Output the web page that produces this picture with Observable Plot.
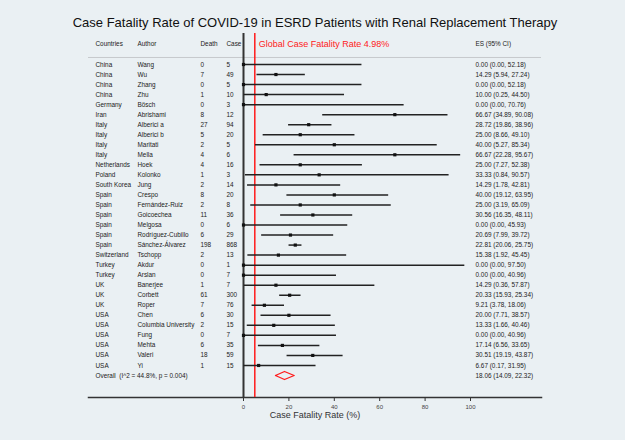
<!DOCTYPE html>
<html><head><meta charset="utf-8">
<script src="https://cdn.jsdelivr.net/npm/d3@7"></script>
<script src="https://cdn.jsdelivr.net/npm/@observablehq/plot@0.6"></script>
<style>
html,body{margin:0;padding:0;background:#eaf0f3;font-family:"Liberation Sans",Arial,sans-serif;overflow:hidden;}
#title{height:33px;box-sizing:border-box;padding-top:15px;padding-left:5px;line-height:16px;font-size:13px;text-align:center;color:#111;}
#chart svg{background:transparent !important;}
</style></head><body>
<div id="title">Case Fatality Rate of COVID-19 in ESRD Patients with Renal Replacement Therapy</div>
<div id="chart"></div>
<script>
const countries = ["China","China","China","China","Germany","Iran","Italy","Italy","Italy","Italy","Netherlands","Poland","South Korea","Spain","Spain","Spain","Spain","Spain","Spain","Switzerland","Turkey","Turkey","UK","UK","UK","USA","USA","USA","USA","USA","USA"];
const authors = ["Wang","Wu","Zhang","Zhu","Bösch","Abrishami","Alberici a","Alberici b","Maritati","Mella","Hoek","Kolonko","Jung","Crespo","Fernández-Ruiz","Goicoechea","Melgosa","Rodríguez-Cubillo","Sánchez-Álvarez","Tschopp","Akdur","Arslan","Banerjee","Corbett","Roper","Chen","Columbia University","Fung","Mehta","Valeri","Yi"];
const deaths = [0,7,0,1,0,8,27,5,2,4,4,1,2,8,2,11,0,6,198,2,0,0,1,61,7,6,2,0,6,18,1];
const cases = [5,49,5,10,3,12,94,20,5,6,16,3,14,20,8,36,6,29,868,13,1,7,7,300,76,30,15,7,35,59,15];
const esValues = [0.00,14.29,0.00,10.00,0.00,66.67,28.72,25.00,40.00,66.67,25.00,33.33,14.29,40.00,25.00,30.56,0.00,20.69,22.81,15.38,0.00,0.00,14.29,20.33,9.21,20.00,13.33,0.00,17.14,30.51,6.67];
const ciLow = [0.00,5.94,0.00,0.25,0.00,34.89,19.86,8.66,5.27,22.28,7.27,0.84,1.78,19.12,3.19,16.35,0.00,7.99,20.06,1.92,0.00,0.00,0.36,15.93,3.78,7.71,1.66,0.00,6.56,19.19,0.17];
const ciHigh = [52.18,27.24,52.18,44.50,70.76,90.08,38.96,49.10,85.34,95.67,52.38,90.57,42.81,63.95,65.09,48.11,45.93,39.72,25.75,45.45,97.50,40.96,57.87,25.34,18.06,38.57,40.46,40.96,33.65,43.87,31.95];
const overallLabel = "Overall\u00a0\u00a0(I^2 = 44.8%, p = 0.004)";
const overallEs = 18.06, overallLo = 14.09, overallHi = 22.32;
const globalCfr = 4.98;
const globalLabel = "Global Case Fatality Rate 4.98%";
const headers = ["Countries","Author","Death","Case"];
const esHeader = "ES (95% CI)";
const xTicks = [0,20,40,60,80,100];
const xLabel = "Case Fatality Rate (%)";

const fmt = d3.format(".2f");
const rows = countries.map((c,i)=>({i, country:c, author:authors[i], death:String(deaths[i]), cas:String(cases[i]), es:esValues[i], lo:ciLow[i], hi:ciHigh[i], esText:`${fmt(esValues[i])} (${fmt(ciLow[i])}, ${fmt(ciHigh[i])})`}));
const overallRow = rows.length;
const headerRow = -2;
const diamond = [[overallLo,0],[overallEs,-0.4],[overallHi,0],[overallEs,0.4],[overallLo,0]].map(([x,o])=>({x, y:overallRow+o}));
const colDx = [7,49,112,138];
const esDx = 387;
const fs = 6.4, ink = "#222";

const marks = [
  Plot.ruleY([headerRow+1.3], {stroke:"#c6c9cc", strokeWidth:1}),
  Plot.frame({anchor:"bottom", stroke:"#333", strokeWidth:1.5}),
  Plot.ruleX([0], {stroke:"#333", strokeWidth:2}),
  Plot.ruleX([globalCfr], {stroke:"#ff1a1a", strokeWidth:1.5}),
  Plot.ruleY(rows, {y:"i", x1:"lo", x2:"hi", stroke:"#222", strokeWidth:1.5}),
  Plot.dot(rows, {x:"es", y:"i", symbol:"square", r:1.8, fill:"#111", stroke:"none"}),
  Plot.line(diamond, {x:"x", y:"y", stroke:"#ff1a1a", strokeWidth:1.3, curve:"linear"}),
  ...headers.map((h,k)=>Plot.text([h], {frameAnchor:"left", y:headerRow, dx:colDx[k], text:d=>d, textAnchor:"start", fontSize:fs, fill:ink})),
  Plot.text([esHeader], {frameAnchor:"left", y:headerRow, dx:esDx, text:d=>d, textAnchor:"start", fontSize:fs, fill:ink}),
  Plot.text([globalLabel], {x:globalCfr, y:headerRow, dx:4, text:d=>d, textAnchor:"start", fontSize:9, fill:"#ff1a1a"}),
  ...["country","author","death","cas"].map((f,k)=>Plot.text(rows, {frameAnchor:"left", y:"i", dx:colDx[k], text:f, textAnchor:"start", fontSize:fs, fill:ink})),
  Plot.text(rows, {frameAnchor:"left", y:"i", dx:esDx, text:"esText", textAnchor:"start", fontSize:fs, fill:ink}),
  Plot.text([overallLabel], {frameAnchor:"left", y:overallRow, dx:colDx[0], text:d=>d, textAnchor:"start", fontSize:fs, fill:ink}),
  Plot.text([`${fmt(overallEs)} (${fmt(overallLo)}, ${fmt(overallHi)})`], {frameAnchor:"left", y:overallRow, dx:esDx, text:d=>d, textAnchor:"start", fontSize:fs, fill:ink}),
  Plot.axisX({ticks:xTicks, tickSize:4, tickPadding:3, fontSize:6, stroke:"#333", fill:"#444", label:null}),
  Plot.text([xLabel], {frameAnchor:"bottom", dy:20, text:d=>d, fontSize:9, fill:"#333"})
];

const chart = Plot.plot({
  width:625, height:407,
  marginLeft:88, marginRight:84, marginTop:0, marginBottom:43,
  style:{background:"transparent", fontFamily:'"Liberation Sans", Arial, sans-serif', color:"#333"},
  x:{domain:[0,100], range:[243,470]},
  y:{domain:[0,31], range:[31,342], axis:null},
  marks
});
document.getElementById("chart").appendChild(chart);
</script>
</body></html>
